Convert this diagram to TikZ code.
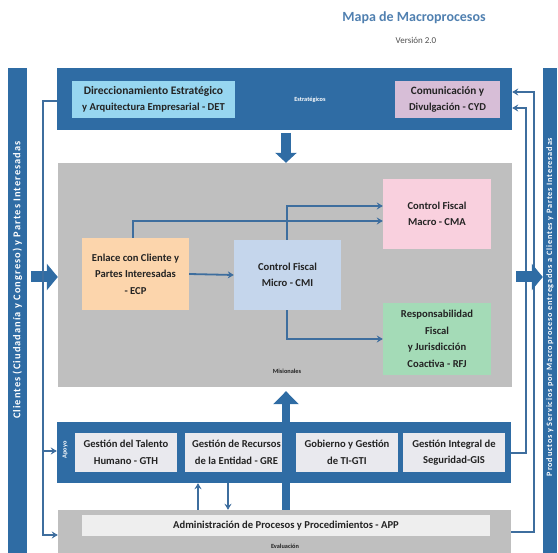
\documentclass[tikz,border=0pt]{standalone}
\usepackage{fontspec}
\setmainfont{Carlito}
\newfontfamily\spacedfont[LetterSpace=10]{Carlito}
\usetikzlibrary{arrows.meta}
\definecolor{dblue}{RGB}{47,108,164}
\definecolor{mgray}{RGB}{191,191,191}
\definecolor{cdet}{RGB}{151,214,240}
\definecolor{ccyd}{RGB}{215,190,215}
\definecolor{cecp}{RGB}{252,213,172}
\definecolor{ccmi}{RGB}{197,214,236}
\definecolor{ccma}{RGB}{249,208,222}
\definecolor{crfj}{RGB}{164,219,183}
\definecolor{capo}{RGB}{233,233,238}
\definecolor{capp}{RGB}{238,238,238}
\definecolor{cline}{RGB}{62,110,158}
\definecolor{ctitle}{RGB}{80,128,176}
\definecolor{ctext}{RGB}{35,35,35}
\tikzset{
  panel/.style={rectangle, inner sep=0pt, draw=none},
  proc/.style={rectangle, inner sep=0pt, draw=none, align=center, text=ctext,
    font=\fontsize{10.6}{16.5}\selectfont\bfseries},
  small/.style={inner sep=0pt, font=\fontsize{6.3}{7}\selectfont\bfseries},
  conn/.style={draw=cline, line width=1.8pt, -{Stealth[length=6pt,width=7pt]}},
  plainline/.style={draw=cline, line width=1.8pt},
  bigarrow/.style={draw=dblue, line width=11pt, -{Triangle[length=11pt,width=26pt]}},
  bartext/.style={inner sep=0pt, text=white, rotate=90, font=\spacedfont\fontsize{8.2}{9}\selectfont\bfseries},
}
\begin{document}
\begin{tikzpicture}[x=1pt,y=-1pt]
\useasboundingbox (0,0) rectangle (558,553);
% title
\node[inner sep=0pt, text=ctitle, font=\fontsize{14}{16}\selectfont\bfseries] (title) at (414,18) {Mapa de Macroprocesos};
\node[inner sep=0pt, text=ctext!80, font=\fontsize{9}{10}\selectfont] (version) at (416,40) {Versión 2.0};
% side bars
\node[panel, fill=dblue, minimum width=19pt, minimum height=485pt] (lbar) at (17.5,310.5) {};
\node[bartext, font=\spacedfont\fontsize{10.4}{11}\selectfont\bfseries] (ltext) at (17.5,280) {Clientes (Ciudadanía y Congreso) y Partes Interesadas};
\node[panel, fill=dblue, minimum width=14pt, minimum height=485pt] (rbar) at (550,310.5) {};
\node[bartext] (rtext) at (550,307) {Productos y Servicios por Macroproceso entregados a Clientes y Partes Interesadas};
% strategic
\node[panel, fill=dblue, minimum width=455pt, minimum height=62pt] (strat) at (284.5,99) {};
\node[proc, fill=cdet, minimum width=163pt, minimum height=37pt] (det) at (153.5,99.5) {\fontsize{11.5}{16}\selectfont Direccionamiento Estratégico\\y Arquitectura Empresarial - DET};
\node[proc, fill=ccyd, minimum width=105pt, minimum height=37pt] (cyd) at (447.5,99.5) {\fontsize{11.2}{16}\selectfont Comunicación y\\Divulgación - CYD};
\node[small, text=white] (estr) at (310,100) {Estratégicos};
% misionales
\node[panel, fill=mgray, minimum width=454pt, minimum height=224pt] (mis) at (285,275) {};
\node[proc, fill=cecp, minimum width=107pt, minimum height=72pt] (ecp) at (135.5,274) {Enlace con Cliente y\\Partes Interesadas\\- ECP};
\node[proc, fill=ccmi, minimum width=107pt, minimum height=70pt] (cmi) at (287.5,275) {Control Fiscal\\Micro - CMI};
\node[proc, fill=ccma, minimum width=108pt, minimum height=70pt] (cma) at (437,214) {Control Fiscal\\Macro - CMA};
\node[proc, fill=crfj, minimum width=108pt, minimum height=72pt] (rfj) at (437,339) {Responsabilidad\\Fiscal\\y Jurisdicción\\Coactiva - RFJ};
\node[small, text=ctext] (misl) at (287,371) {Misionales};
% apoyo
\node[panel, fill=dblue, minimum width=454pt, minimum height=61pt] (apoyo) at (284,452.5) {};
\node[small, text=white, rotate=90] (apol) at (65,450) {Apoyo};
\node[proc, fill=capo, minimum width=102pt, minimum height=39pt] (gth) at (126,452.5) {Gestión del Talento\\Humano - GTH};
\node[proc, fill=capo, minimum width=103pt, minimum height=39pt] (gre) at (236.5,452.5) {Gestión de Recursos\\de la Entidad - GRE};
\node[proc, fill=capo, minimum width=102pt, minimum height=39pt] (gti) at (347,452.5) {Gobierno y Gestión\\de TI-GTI};
\node[proc, fill=capo, minimum width=102pt, minimum height=39pt] (gis) at (454,452.5) {Gestión Integral de\\Seguridad-GIS};
% evaluacion
\node[panel, fill=mgray, minimum width=453pt, minimum height=44pt] (eval) at (284.5,532) {};
\node[proc, fill=capp, minimum width=408pt, minimum height=21pt] (app) at (286,525.5) {Administración de Procesos y Procedimientos - APP};
\node[small, text=ctext] (evall) at (285,546) {Evaluación};
% big arrows
\coordinate (dtop) at (286,133);
\draw[bigarrow, line width=10pt, -{Triangle[length=10pt,width=21pt]}] (dtop) -- (mis.north -| dtop);
\draw[bigarrow, line width=8pt, -{Triangle[length=13pt,width=25pt]}] (eval.north -| dtop) -- ([yshift=-4pt]mis.south -| dtop);
\coordinate (lstart) at (31,277);
\draw[bigarrow] (lstart) -- (mis.west |- lstart);
% left connectors
\coordinate (L1) at (43,101);
\coordinate (L2) at (43,451);
\coordinate (L3) at (43,535);
\draw[plainline] (strat.west |- L1) -- (L1) -- (L2);
\draw[conn] (L2) -- (apoyo.west |- L2);
\draw[conn] (L2) -- (L3) -- (eval.west |- L3);
% right connectors
\coordinate (R1a) at (526,453);
\coordinate (R1b) at (526,108);
\coordinate (R2a) at (534,532);
\coordinate (R2b) at (534,92);
\draw[conn] (apoyo.east |- R1a) -- (R1a) -- (R1b) -- (strat.east |- R1b);
\draw[conn] (eval.east |- R2a) -- (R2a) -- (R2b) -- (strat.east |- R2b);
\coordinate (rstart) at (516,277);
\draw[bigarrow] (rstart) -- (rbar.west |- rstart);
% misionales connectors
\draw[conn] (ecp.east) -- (cmi.west);
\coordinate (E1) at (133,221);
\draw[conn] (ecp.north -| E1) -- (E1) -- (cma.west |- E1);
\coordinate (C1) at (287,206);
\draw[conn] (cmi.north -| C1) -- (C1) -- (cma.west |- C1);
\coordinate (C2) at (287,339);
\draw[conn] (cmi.south -| C2) -- (C2) -- (rfj.west);
% apoyo-eval small arrows
\coordinate (A1) at (198,0);
\coordinate (A2) at (228,0);
\draw[conn] (eval.north -| A1) -- (apoyo.south -| A1);
\draw[conn] (apoyo.south -| A2) -- (eval.north -| A2);
\end{tikzpicture}
\end{document}
